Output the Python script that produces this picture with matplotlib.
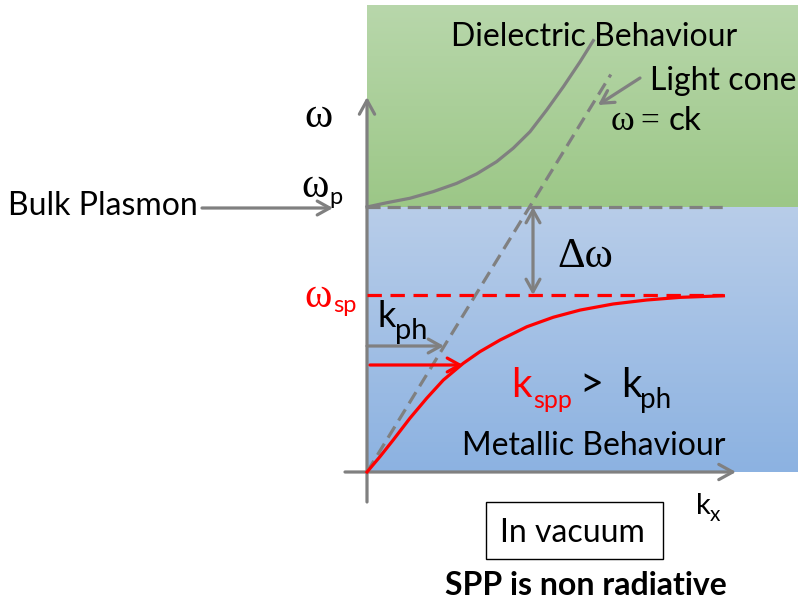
import numpy as np
import matplotlib.pyplot as plt
from matplotlib.colors import LinearSegmentedColormap
from matplotlib.patches import Rectangle

SANS = ['Lato', 'DejaVu Sans']
SERIF = ['Liberation Serif', 'DejaVu Serif']
plt.rcParams['font.family'] = SANS

# dispersion curves (k and omega in units of omega_p)
w_p = 1.0
w_sp = 0.668
k_spp = [0.0, 0.049, 0.099, 0.162, 0.225, 0.288, 0.363, 0.426, 0.502, 0.603,
         0.703, 0.804, 0.929, 1.055, 1.181, 1.345]
w_spp = [0.0, 0.058, 0.121, 0.203, 0.278, 0.347, 0.410, 0.454, 0.498, 0.548,
         0.584, 0.611, 0.634, 0.649, 0.659, 0.665]
k_diel = [0.0, 0.074, 0.162, 0.250, 0.338, 0.414, 0.489, 0.552, 0.615, 0.678,
          0.741, 0.804, 0.854]
w_diel = [1.0, 1.016, 1.033, 1.058, 1.089, 1.125, 1.171, 1.222, 1.284, 1.366,
          1.454, 1.548, 1.628]
k_light = [0.0, 0.92]
w_light = [0.0, 1.50]
k_end = 1.345

GRAY = '#808080'
RED = '#ff0000'

# layout: 265 px per unit, origin of the axes at pixel (367, 472)
S, X0, Y0 = 265.0, 367.0, 472.0


def at(px, py):
    """pixel position in the picture -> diagram coordinates"""
    return (px - X0) / S, (Y0 - py) / S


fig = plt.figure(figsize=(7.98, 6.05), dpi=100)
ax = fig.add_axes([0, 0, 1, 1])
ax.set_xlim(-X0 / S, (798 - X0) / S)
ax.set_ylim((Y0 - 605) / S, Y0 / S)
ax.axis('off')


def label(px, py, s, size, family=SANS, color='black', **kw):
    # left edge / baseline placed at a pixel position
    ax.text(*at(px, py), s, fontsize=size, family=family, color=color,
            ha='left', va='baseline', **kw)


# background regions with vertical gradients
grad = np.linspace(0, 1, 256).reshape(-1, 1)
green = LinearSegmentedColormap.from_list('g', ['#9cc787', '#b8d7ab'])
blue = LinearSegmentedColormap.from_list('b', ['#8cb2e1', '#b8cde9'])
x_right = (798 - X0) / S
ax.imshow(grad, cmap=green, origin='lower', aspect='auto',
          extent=(0, x_right, w_p, at(0, 5)[1]), zorder=0)
ax.imshow(grad, cmap=blue, origin='lower', aspect='auto',
          extent=(0, x_right, 0, w_p), zorder=0)

# axes with arrow heads
arr = dict(color=GRAY, lw=2.3, shrinkA=0, shrinkB=0, mutation_scale=10)
big = '->,head_length=1.0,head_width=0.55'
ax.annotate('', xy=(0, at(0, 97)[1]), xytext=(0, at(0, 502)[1]),
            arrowprops=dict(arrowstyle=big, **arr))
ax.annotate('', xy=(at(736, 0)[0], 0), xytext=(at(345, 0)[0], 0),
            arrowprops=dict(arrowstyle=big, **arr))

# curves
gray_dash = (0, (4.1, 2.2))
ax.plot(k_diel, w_diel, color=GRAY, lw=2.3, solid_joinstyle='round', zorder=3)
ax.plot(k_light, w_light, color=GRAY, lw=2.3, ls=gray_dash, zorder=3)
ax.plot([0, k_end], [w_p, w_p], color=GRAY, lw=2.3, ls=gray_dash, zorder=3)
ax.plot([0, k_end], [w_sp, w_sp], color=RED, lw=2.3, ls=(0, (4.5, 2.7)), zorder=3)
ax.plot(k_spp, w_spp, color=RED, lw=2.3, solid_joinstyle='round', zorder=4)

# arrows
head = '->,head_length=0.9,head_width=0.5'
ax.annotate('', xy=at(333, 208), xytext=at(202, 208),
            arrowprops=dict(arrowstyle=head, **arr))
ax.annotate('', xy=at(598, 105), xytext=at(640, 78),
            arrowprops=dict(arrowstyle=head, **arr))
ax.annotate('', xy=(at(533, 0)[0], w_sp), xytext=(at(533, 0)[0], w_p),
            arrowprops=dict(arrowstyle='<->,head_length=0.9,head_width=0.5', **arr))
ax.annotate('', xy=at(444, 346), xytext=at(367, 346),
            arrowprops=dict(arrowstyle=head, **arr))
ax.annotate('', xy=at(463, 365), xytext=at(370, 365),
            arrowprops=dict(arrowstyle=head, **dict(arr, color=RED)))

# labels
fs = 23
label(451, 46, 'Dielectric Behaviour', fs)
label(650, 90, 'Light cone', fs)
label(611, 130, 'ω', 26, SERIF)
label(640, 130, '=', 24, SERIF)
label(669, 130, 'ck', 24)
label(304, 127, 'ω', 31, SERIF)
label(301, 197, 'ω', 30, SERIF)
label(329, 204, 'p', 17)
label(8, 215, 'Bulk Plasmon', fs)
label(557, 267, 'Δω', 31, SERIF)
label(304, 307, 'ω', 30, SERIF, RED)
label(333, 312, 'sp', 17, color=RED)
label(378, 327, 'k', 26)
label(395, 339, 'ph', 21)
label(511, 397, 'k', 29, color=RED)
label(533, 408, 'spp', 18, color=RED)
label(579, 397, '>', 30)
label(621, 397, 'k', 29)
label(640, 408, 'ph', 20)
label(462, 455, 'Metallic Behaviour', fs)
label(696, 514, 'k', 21)
label(710, 521, 'x', 15)

# boxed note and footer
x0, y0 = at(486, 559)
x1, y1 = at(663, 502)
ax.add_patch(Rectangle((x0, y0), x1 - x0, y1 - y0, fill=False, ec='black', lw=1.0, zorder=5))
label(500, 542, 'In vacuum', fs)
label(445, 595, 'SPP is non radiative', fs, fontweight='bold')

fig.savefig('out.png', dpi=100)
